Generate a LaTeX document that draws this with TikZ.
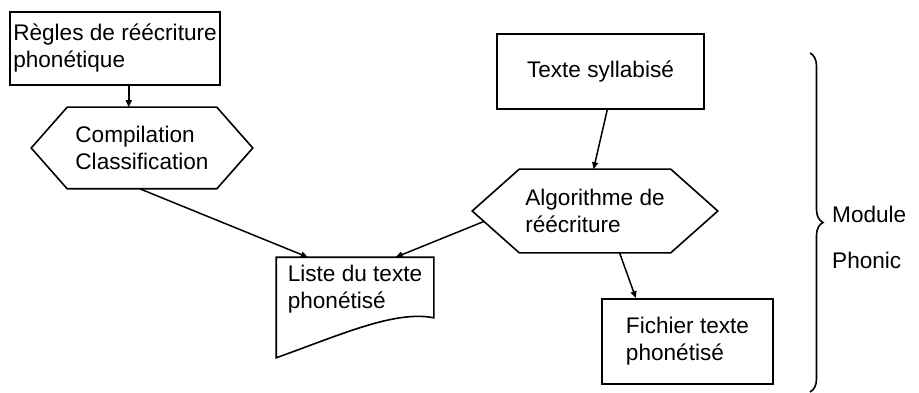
\documentclass[tikz,border=0pt]{standalone}
\usepackage{fontspec}
\setmainfont{Liberation Sans}
\usetikzlibrary{arrows.meta,calc,decorations.pathreplacing}

\begin{document}
\begin{tikzpicture}[x=1pt, y=-1pt,
  box/.style={draw, line width=1.6pt, inner sep=0pt, align=left},
  arr/.style={-{Triangle[length=7pt, width=6pt]}, line width=1.5pt}]

  \fontsize{22.6}{27}\selectfont
  \useasboundingbox (0,0) rectangle (919,393);

  %% hexagone autour d'un noeud (nom, pointe)
  \newcommand\hexa[2]{%
    \draw[line width=1.6pt] ($(#1.north west)+(#2,0)$) -- ($(#1.north east)+(-#2,0)$)
      -- (#1.east) -- ($(#1.south east)+(-#2,0)$) -- ($(#1.south west)+(#2,0)$)
      -- (#1.west) -- cycle;}

  \node[box, minimum width=210pt, minimum height=73pt] (regles) at (115,48.5)
    {R\`egles de r\'e\'ecriture\\phon\'etique};
  \node[box, draw=none, minimum width=220pt, minimum height=80pt] (compil) at (142,148)
    {Compilation\\Classification};
  \hexa{compil}{36pt}
  \node[box, minimum width=207pt, minimum height=75pt] (texte) at (600.5,71.5)
    {Texte syllabis\'e};
  \node[box, draw=none, minimum width=244pt, minimum height=82pt] (algo) at (595,211)
    {Algorithme de\\r\'e\'ecriture};
  \hexa{algo}{47pt}
  \node[box, minimum width=171pt, minimum height=85pt] (fichier) at (687.5,341.5)
    {Fichier texte\\phon\'etis\'e};

  %% liste: haut plat, bas ondule
  \node[box, draw=none, minimum width=156pt, minimum height=62pt] (liste) at (355,289)
    {Liste du texte\\phon\'etis\'e};
  \draw[line width=1.6pt] (liste.north west) -- (liste.north east)
    -- ($(liste.south east)+(0,-3)$)
    .. controls (395,310) and (340,335) .. ($(liste.south west)+(0,37)$)
    -- cycle;

  \draw[arr] ($(regles.south west)!0.565!(regles.south east)$) coordinate (r1)
    -- (r1 |- compil.north); %% regles->compil
  \draw[arr] ($(compil.south west)!0.49!(compil.south east)$) -- (liste.146); %% compil->liste
  \draw[arr] (texte.-80) -- (algo.92); %% texte->algo
  \draw[arr] ($(algo.west)!0.25!($(algo.south west)+(47pt,0)$)$) -- (liste.38); %% algo->liste
  \draw[arr] ($(algo.south west)!0.6!(algo.south east)$) -- (fichier.140); %% algo->fichier

  %% accolade
  \coordinate (btop) at (810,53);
  \coordinate (bbot) at (810,392);
  \draw[line width=1.6pt, decorate, decoration={brace, amplitude=13pt}]
    (btop) -- (bbot);
  \node[anchor=west, inner sep=0pt] (module) at (832,214) {Module};
  \node[anchor=west, inner sep=0pt] (phonic) at (832,260) {Phonic};
\end{tikzpicture}
\end{document}
